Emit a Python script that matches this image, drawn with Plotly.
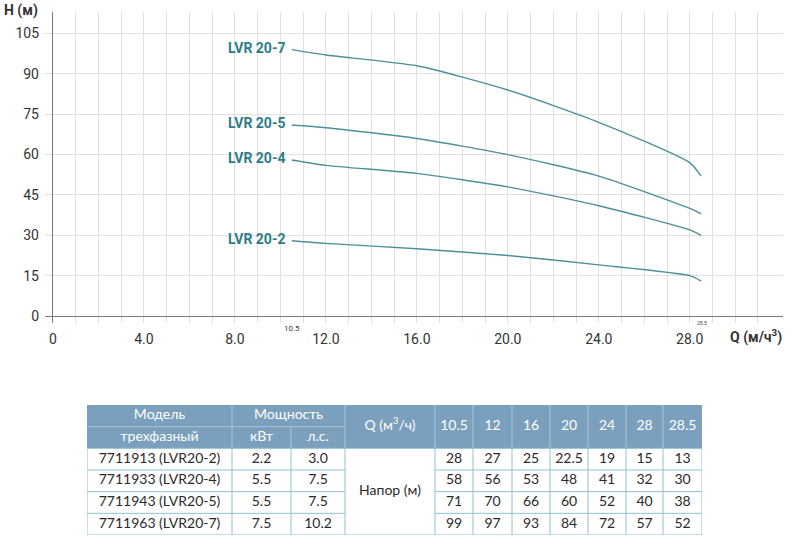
import plotly.graph_objects as go

# ---------------- data ----------------
q_values = [10.5, 12, 16, 20, 24, 28, 28.5]
series_names = ["LVR 20-2", "LVR 20-4", "LVR 20-5", "LVR 20-7"]
head_20_2 = [28, 27, 25, 22.5, 19, 15, 13]
head_20_4 = [58, 56, 53, 48, 41, 32, 30]
head_20_5 = [71, 70, 66, 60, 52, 40, 38]
head_20_7 = [99, 97, 93, 84, 72, 57, 52]
heads = [head_20_2, head_20_4, head_20_5, head_20_7]

x_tick_vals = [0, 4, 8, 12, 16, 20, 24, 28]
x_tick_text = ["0", "4.0", "8.0", "12.0", "16.0", "20.0", "24.0", "28.0"]
y_tick_vals = [0, 15, 30, 45, 60, 75, 90, 105]

models = ["7711913 (LVR20-2)", "7711933 (LVR20-4)", "7711943 (LVR20-5)", "7711963 (LVR20-7)"]
power_kw = ["2.2", "5.5", "5.5", "7.5"]
power_hp = ["3.0", "7.5", "7.5", "10.2"]
q_labels = ["10.5", "12", "16", "20", "24", "28", "28.5"]

# ---------------- styles ----------------
LINE_COLOR = "#4e8f9a"
LABEL_COLOR = "#2e7c87"
AXIS_COLOR = "#7a7a7a"
GRID_COLOR = "#e0e0e0"
HEAD_FILL = "#7ba0bd"
HEAD_LINE = "#a9c5d8"
BODY_LINE = "#8fc2cd"
TXT = "#2a2a2a"
W, H = 792, 544

fig = go.Figure()

for name, h in zip(series_names, heads):
    fig.add_trace(go.Scatter(
        x=q_values, y=h, mode="lines", name=name,
        line=dict(color=LINE_COLOR, width=1.4, shape="spline", smoothing=0.6),
        hoverinfo="skip", showlegend=False, xaxis="x", yaxis="y"))
    fig.add_annotation(x=q_values[0], y=h[0], xref="x", yref="y",
                       text="<b>%s</b>" % name, showarrow=False,
                       xanchor="right", yanchor="middle", xshift=-5, yshift=2,
                       font=dict(family="Roboto", size=14, color=LABEL_COLOR))

# small markers of first / last Q
fig.add_annotation(x=q_values[0], y=0, xref="x", yref="y", text=q_labels[0],
                   showarrow=False, yanchor="middle", yshift=-12, xshift=0,
                   font=dict(family="Roboto", size=8, color="#444"))
fig.add_annotation(x=q_values[-1], y=0, xref="x", yref="y", text=q_labels[-1],
                   showarrow=False, yanchor="middle", yshift=-7, xshift=1,
                   font=dict(family="Roboto", size=5, color="#444"))

# axis titles
fig.add_annotation(x=2 / W, y=1 - 10 / H, xref="paper", yref="paper",
                   text="<b>H (м)</b>", showarrow=False, xanchor="left", yanchor="middle",
                   font=dict(family="Roboto", size=14, color="#333"))
fig.add_annotation(x=784 / W, y=1 - 336 / H, xref="paper", yref="paper",
                   text="<b>Q (м/ч<sup>3</sup>)</b>", showarrow=False, xanchor="right",
                   yanchor="middle", font=dict(family="Roboto", size=14, color="#333"))

# ---------------- table ----------------
col_edges = [0, 145, 204, 258, 348, 386, 425, 463, 501, 539, 576, 615]
centers = [(col_edges[i] + col_edges[i + 1]) / 2 for i in range(len(col_edges) - 1)]
TW = col_edges[-1]

shapes = []
shapes.append(dict(type="rect", xref="x2", yref="y2", x0=0, x1=TW, y0=0, y1=2,
                   fillcolor=HEAD_FILL, line=dict(width=0), layer="below"))


def hline(y, x0, x1, color):
    shapes.append(dict(type="line", xref="x2", yref="y2", x0=x0, x1=x1, y0=y, y1=y,
                       line=dict(color=color, width=1)))


def vline(x, y0, y1, color):
    shapes.append(dict(type="line", xref="x2", yref="y2", x0=x, x1=x, y0=y0, y1=y1,
                       line=dict(color=color, width=1)))


# header separators
hline(1, 0, col_edges[3], HEAD_LINE)
vline(col_edges[1], 0, 2, HEAD_LINE)
vline(col_edges[2], 1, 2, HEAD_LINE)
for e in col_edges[3:-1]:
    vline(e, 0, 2, HEAD_LINE)
# body grid
for r in [3, 4, 5]:
    hline(r, 0, col_edges[3], BODY_LINE)
    hline(r, col_edges[4], TW, BODY_LINE)
hline(2, 0, TW, BODY_LINE)
hline(6, 0, TW, BODY_LINE)
for e in col_edges:
    vline(e, 2, 6, BODY_LINE)

head_font = dict(family="Lato", size=14, color="white")
body_font = dict(family="Lato", size=14, color=TXT)

# header text
hx = [centers[0], centers[0], (col_edges[1] + col_edges[3]) / 2, centers[1], centers[2], centers[3]]
hy = [0.5, 1.5, 0.5, 1.5, 1.5, 1.0]
ht = ["Модель", "трехфазный", "Мощность", "кВт", "л.с.", "Q (м<sup>3</sup>/ч)"]
hx += centers[4:]
hy += [1.0] * len(q_labels)
ht += q_labels
fig.add_trace(go.Scatter(x=hx, y=hy, text=ht, mode="text", textfont=head_font,
                         hoverinfo="skip", showlegend=False, xaxis="x2", yaxis="y2"))

# body text
bx, by, bt = [], [], []
for i in range(len(models)):
    row = 2.5 + i
    bx += [centers[0], centers[1], centers[2]]
    by += [row] * 3
    bt += [models[i], power_kw[i], power_hp[i]]
    for j, v in enumerate(heads[i]):
        bx.append(centers[4 + j])
        by.append(row)
        bt.append("%g" % v)
bx.append(centers[3])
by.append(4.0)
bt.append("Напор (м)")
fig.add_trace(go.Scatter(x=bx, y=by, text=bt, mode="text", textfont=body_font,
                         hoverinfo="skip", showlegend=False, xaxis="x2", yaxis="y2"))

fig.update_layout(
    width=W, height=H, margin=dict(l=0, r=0, t=0, b=0),
    paper_bgcolor="white", plot_bgcolor="white",
    shapes=shapes,
    xaxis=dict(domain=[45 / W, 783 / W], range=[-0.35, 32.1],
               tickmode="array", tickvals=x_tick_vals, ticktext=x_tick_text,
               showgrid=False, zeroline=True, zerolinecolor=AXIS_COLOR, zerolinewidth=1,
               showline=False, ticks="", ticklabelstandoff=6,
               tickfont=dict(family="Roboto", size=14, color="#333"),
               minor=dict(tickmode="array", tickvals=list(range(0, 32)), showgrid=True,
                          gridcolor=GRID_COLOR, gridwidth=1, ticks=""),
               fixedrange=True),
    yaxis=dict(domain=[1 - 323 / H, 1 - 12 / H], range=[-2.6, 113],
               tickmode="array", tickvals=y_tick_vals,
               showgrid=True, gridcolor=GRID_COLOR, gridwidth=1,
               zeroline=True, zerolinecolor=AXIS_COLOR, zerolinewidth=1,
               showline=False, ticks="", ticklabelstandoff=5,
               tickfont=dict(family="Roboto", size=14, color="#333"),
               fixedrange=True),
    xaxis2=dict(domain=[87 / W, 702 / W], range=[0, TW], visible=False, fixedrange=True),
    yaxis2=dict(domain=[9 / H, 139 / H], range=[6, 0], visible=False, fixedrange=True),
)

fig.write_html("out.html")
